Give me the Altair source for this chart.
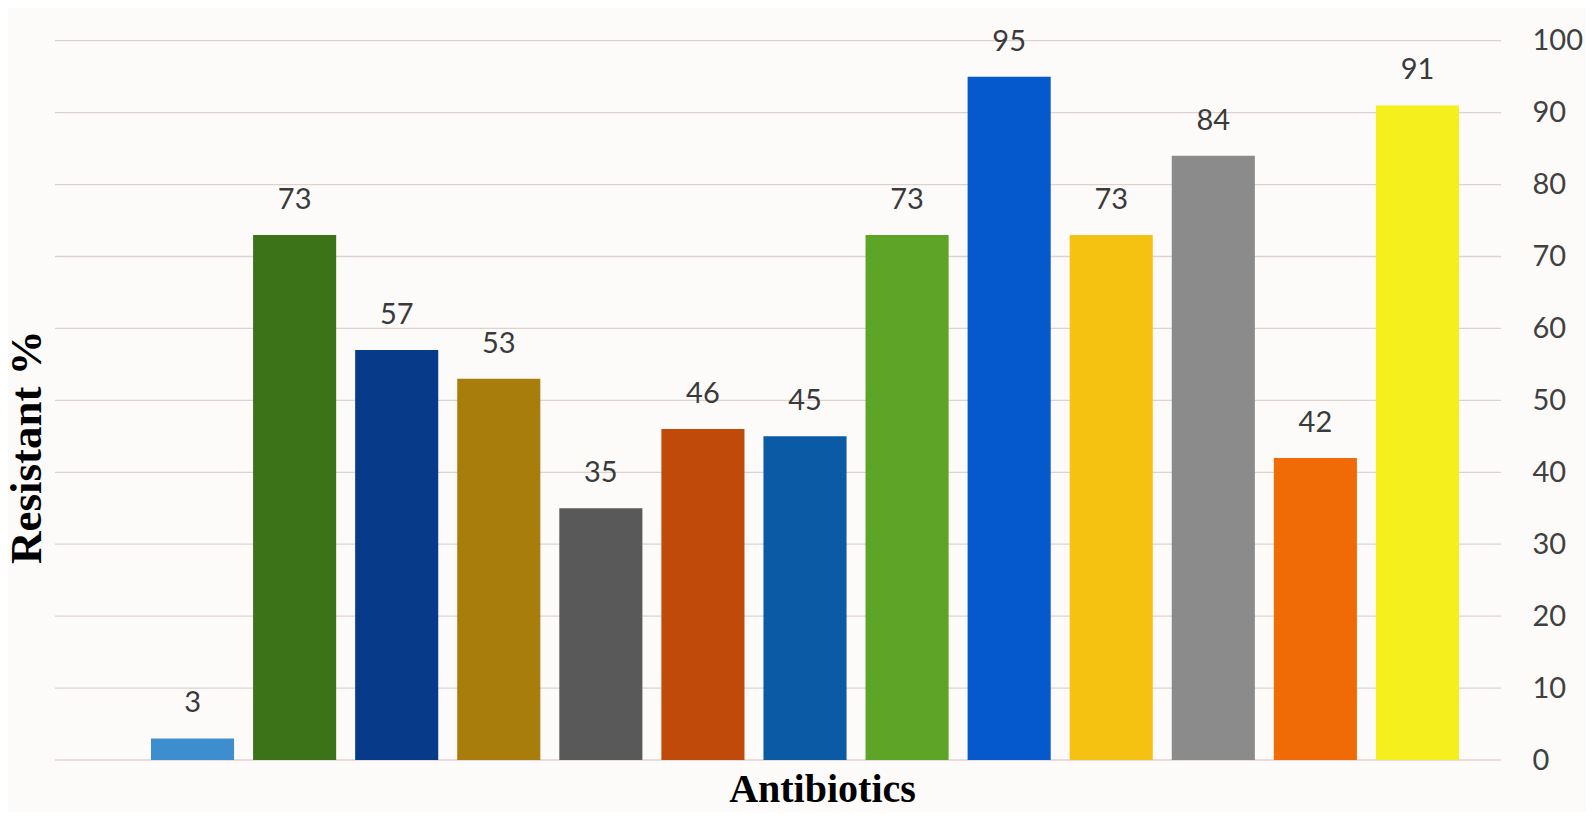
import altair as alt
import pandas as pd

categories = [f"Antibiotic {i}" for i in range(1, 14)]
resistant = [3, 73, 57, 53, 35, 46, 45, 73, 95, 73, 84, 42, 91]
bar_colors = ["#3d8ecf", "#3c7218", "#073b8a", "#a87d0b", "#595959", "#c04a0a",
              "#0b5aa6", "#5ea527", "#0659cc", "#f5c211", "#8b8b8b", "#f06a06", "#f5ef1e"]
y_ticks = list(range(0, 101, 10))

df = pd.DataFrame({"Antibiotic": categories, "Resistant": resistant})
grid_df = pd.DataFrame({"tick": y_ticks})

W, H = 1446, 719.3

x_scale = alt.Scale(domain=categories, range=[96, 1404], paddingInner=0.186, paddingOuter=0)
y_scale = alt.Scale(domain=[0, 100], nice=False)

x_axis = alt.Axis(title="Antibiotics", labels=False, ticks=False, domain=False, grid=False,
                  titleFont="Liberation Serif", titleFontSize=40, titleFontWeight="bold",
                  titleColor="#000000", titleX=767, titleY=41,
                  titleBaseline="alphabetic", titleAlign="center")

grid = alt.Chart(grid_df).mark_rule(color="#dfd2ce", strokeWidth=1.3).encode(
    x=alt.value(0), x2=alt.value(W),
    y=alt.Y("tick:Q", scale=y_scale,
            axis=alt.Axis(orient="right", title=None, values=y_ticks, ticks=False, tickSize=0,
                          domain=False, grid=False,
                          labelFont="Lato", labelFontSize=29, labelColor="#404040",
                          labelPadding=31, labelAlign="left", labelBaseline="middle")),
)

base = alt.Chart(df)

bars = base.mark_bar().encode(
    x=alt.X("Antibiotic:N", scale=x_scale, sort=categories, axis=x_axis),
    y=alt.Y("Resistant:Q", scale=y_scale,
            axis=alt.Axis(orient="left", title="Resistant %", labels=False, ticks=False,
                          domain=False, grid=False,
                          titleFont="Liberation Serif", titleFontSize=45, titleFontWeight="bold",
                          titleColor="#000000", titleAngle=270, titleX=-29, titleY=406,
                          titleAlign="center", titleBaseline="middle")),
    color=alt.Color("Antibiotic:N", scale=alt.Scale(domain=categories, range=bar_colors),
                    legend=None),
)

labels = base.mark_text(baseline="alphabetic", dy=-26, font="Lato", fontSize=29,
                        color="#3a3a3a").encode(
    x=alt.X("Antibiotic:N", scale=x_scale, sort=categories, axis=x_axis),
    y=alt.Y("Resistant:Q", scale=y_scale, axis=None),
    text=alt.Text("Resistant:Q"),
)

chart = alt.layer(grid, bars, labels).resolve_axis(y="independent").properties(
    width=W, height=H,
    autosize=alt.AutoSizeParams(type="none"),
    padding={"left": 47, "top": 32.7, "right": 85, "bottom": 52},
    background="#fdfbfa",
).configure_view(stroke=None)

chart.save("out.html", embed_options={"renderer": "svg", "actions": False})
